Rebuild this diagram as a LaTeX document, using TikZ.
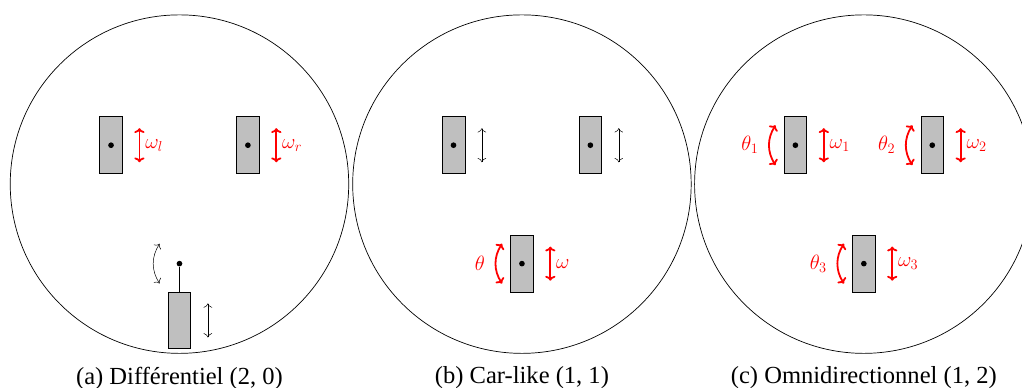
\documentclass[tikz,border=0pt]{standalone}
\usepackage[no-math]{fontspec}
\setmainfont{Liberation Serif}
\usetikzlibrary{arrows.meta}
\tikzset{
  wheel/.style={draw, fill=black!25, line width=0.7pt, minimum width=0.8cm, minimum height=2cm, inner sep=0pt},
  axle/.style={circle, fill=black, minimum size=0.2cm, inner sep=0pt},
  free/.style={{To[length=0.15cm,width=0.3cm]}-{To[length=0.15cm,width=0.3cm]}, line width=0.5pt},
  motor/.style={{To[length=0.17cm,width=0.36cm]}-{To[length=0.17cm,width=0.36cm]}, red, line width=1.8pt},
  motorlabel/.style={red, inner sep=5pt, font=\fontsize{21.5}{24}\selectfont},
  anglelabel/.style={motorlabel, xshift=-5pt},
  legend/.style={inner sep=0pt, font=\fontsize{24.6}{28}\selectfont},
}
\begin{document}
\begin{tikzpicture}
\useasboundingbox (0,0) rectangle (35.99,13.66);
% differentiel
\begin{scope}[shift={(6.32,7.176)}]
\draw[line width=0.7pt] (0,0) circle (5.96);
\node[wheel] (al) at (-2.41,1.37) {};
\node[axle] at (al.center) {};
\draw[motor] ([shift={(1,0.6)}]al.center) -- node[motorlabel, right] (alw) {$\omega_l$} ([shift={(1,-0.6)}]al.center);
\node[wheel] (ar) at (2.41,1.37) {};
\node[axle] at (ar.center) {};
\draw[motor] ([shift={(1,0.6)}]ar.center) -- node[motorlabel, right] (arw) {$\omega_r$} ([shift={(1,-0.6)}]ar.center);
\node[wheel] (ac) at (0,-4.8) {};
\node[axle] (ap) at (0,-2.8) {};
\draw[line width=0.7pt] (ap) -- (ac);
\draw[free] ([shift={(1,0.6)}]ac.center) -- ([shift={(1,-0.6)}]ac.center);
\draw[free] ([shift={(-0.7,0.7)}]ap.center) to[bend right=33] ([shift={(-0.7,-0.7)}]ap.center);
\node[legend] (acap) at (0,-6.83) {(a) Différentiel (2, 0)};
\end{scope}
% car-like
\begin{scope}[shift={(18.38,7.176)}]
\draw[line width=0.7pt] (0,0) circle (5.96);
\node[wheel] (bl) at (-2.41,1.37) {};
\node[axle] at (bl.center) {};
\draw[free] ([shift={(1,0.6)}]bl.center) -- ([shift={(1,-0.6)}]bl.center);
\node[wheel] (br) at (2.41,1.37) {};
\node[axle] at (br.center) {};
\draw[free] ([shift={(1,0.6)}]br.center) -- ([shift={(1,-0.6)}]br.center);
\node[wheel] (bc) at (0,-2.8) {};
\node[axle] at (bc.center) {};
\draw[motor] ([shift={(1,0.6)}]bc.center) -- node[motorlabel, right] (bcw) {$\omega$} ([shift={(1,-0.6)}]bc.center);
\draw[motor] ([shift={(-0.7,0.7)}]bc.center) to[bend right=33] node[anglelabel, left] (bct) {$\theta$} ([shift={(-0.7,-0.7)}]bc.center);
\node[legend] (bcap) at (0,-6.83) {(b) Car-like (1, 1)};
\end{scope}
% omnidirectionnel
\begin{scope}[shift={(30.42,7.176)}]
\draw[line width=0.7pt] (0,0) circle (5.96);
\node[wheel] (cl) at (-2.41,1.37) {};
\node[axle] at (cl.center) {};
\draw[motor] ([shift={(1,0.6)}]cl.center) -- node[motorlabel, right] (clw) {$\omega_1$} ([shift={(1,-0.6)}]cl.center);
\draw[motor] ([shift={(-0.7,0.7)}]cl.center) to[bend right=33] node[anglelabel, left] (clt) {$\theta_1$} ([shift={(-0.7,-0.7)}]cl.center);
\node[wheel] (cr) at (2.41,1.37) {};
\node[axle] at (cr.center) {};
\draw[motor] ([shift={(1,0.6)}]cr.center) -- node[motorlabel, right] (crw) {$\omega_2$} ([shift={(1,-0.6)}]cr.center);
\draw[motor] ([shift={(-0.7,0.7)}]cr.center) to[bend right=33] node[anglelabel, left] (crt) {$\theta_2$} ([shift={(-0.7,-0.7)}]cr.center);
\node[wheel] (cc) at (0,-2.8) {};
\node[axle] at (cc.center) {};
\draw[motor] ([shift={(1,0.6)}]cc.center) -- node[motorlabel, right] (ccw) {$\omega_3$} ([shift={(1,-0.6)}]cc.center);
\draw[motor] ([shift={(-0.7,0.7)}]cc.center) to[bend right=33] node[anglelabel, left] (cct) {$\theta_3$} ([shift={(-0.7,-0.7)}]cc.center);
\node[legend] (ccap) at (0,-6.83) {(c) Omnidirectionnel (1, 2)};
\end{scope}
\end{tikzpicture}
\end{document}
